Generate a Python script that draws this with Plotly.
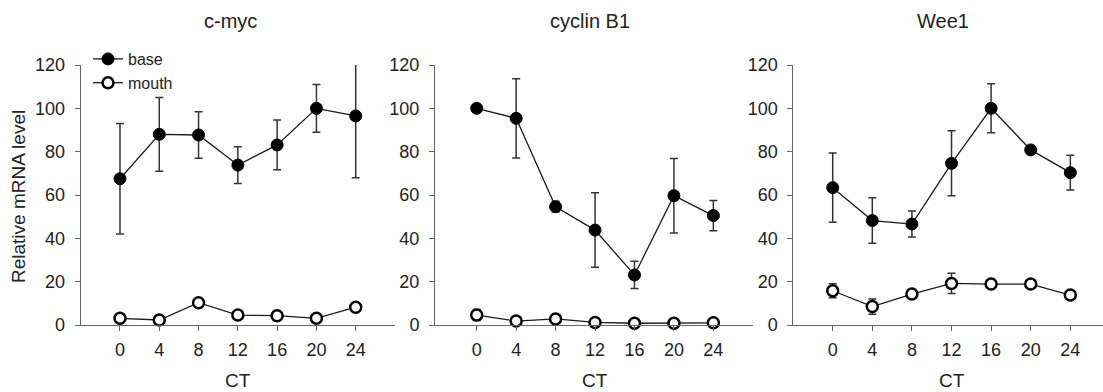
import plotly.graph_objects as go

W, H = 1103, 392

ct = [0, 4, 8, 12, 16, 20, 24]
titles = ["c-myc", "cyclin B1", "Wee1"]

cmyc_base = [67.5, 88.0, 87.7, 73.8, 83.1, 100.0, 96.5]
cmyc_base_err = [25.5, 17.0, 10.7, 8.5, 11.5, 11.0, 28.5]
cmyc_mouth = [3.1, 2.3, 10.3, 4.6, 4.3, 3.1, 8.2]
cmyc_mouth_err = [0.8, 0.6, 1.2, 0.8, 0.8, 0.6, 1.0]

cycb1_base = [100.0, 95.4, 54.6, 43.8, 23.1, 59.7, 50.5]
cycb1_base_err = [1.5, 18.3, 2.5, 17.2, 6.3, 17.2, 7.0]
cycb1_mouth = [4.6, 1.8, 2.8, 1.2, 0.8, 0.8, 1.0]
cycb1_mouth_err = [2.5, 0.6, 0.8, 0.4, 0.3, 0.3, 0.3]

wee1_base = [63.4, 48.2, 46.6, 74.6, 100.0, 80.8, 70.3]
wee1_base_err = [16.0, 10.5, 6.0, 15.0, 11.3, 1.5, 8.0]
wee1_mouth = [15.8, 8.5, 14.3, 19.2, 18.9, 18.9, 13.8]
wee1_mouth_err = [3.2, 3.5, 1.0, 4.7, 0.8, 0.8, 1.5]

panels = [
    (cmyc_base, cmyc_base_err, cmyc_mouth, cmyc_mouth_err),
    (cycb1_base, cycb1_base_err, cycb1_mouth, cycb1_mouth_err),
    (wee1_base, wee1_base_err, wee1_mouth, wee1_mouth_err),
]

FONT = "Liberation Sans, Arial, sans-serif"
LINE_C = "#1a1a1a"
ERR_C = "#333333"
AX_C = "#666666"

# pixel layout of the three plot areas
x_dom_px = [(80.7, 395.0), (435.0, 752.7), (793.3, 1103.0)]
x_ranges = [(-4.0, 28.0), (-4.23, 27.99), (-3.98, 27.3)]
y_dom = [(H - 325) / H, (H - 65) / H]

fig = go.Figure()

for i, (b, be, m, me) in enumerate(panels):
    sfx = "" if i == 0 else str(i + 1)
    xa, ya = "x" + sfx, "y" + sfx
    fig.add_trace(go.Scatter(
        x=ct, y=b, mode="lines+markers", name="base",
        xaxis=xa, yaxis=ya, showlegend=(i == 0), cliponaxis=True,
        line=dict(color=LINE_C, width=1.3),
        marker=dict(size=12, color="black", line=dict(color="black", width=1)),
        error_y=dict(type="data", array=be, visible=True, color=ERR_C,
                     thickness=1.5, width=4),
    ))
    fig.add_trace(go.Scatter(
        x=ct, y=m, mode="lines+markers", name="mouth",
        xaxis=xa, yaxis=ya, showlegend=(i == 0), cliponaxis=False,
        line=dict(color=LINE_C, width=1.3),
        marker=dict(size=11, color="white", line=dict(color="black", width=2.5)),
        error_y=dict(type="data", array=me, visible=True, color=ERR_C,
                     thickness=1.5, width=4),
    ))

layout = dict(
    width=W, height=H,
    margin=dict(l=0, r=0, t=0, b=0, pad=0, autoexpand=False),
    paper_bgcolor="white", plot_bgcolor="white",
    font=dict(family=FONT, size=18, color="#222222"),
    showlegend=True,
    legend=dict(x=88 / W, y=1 - 42 / H, xanchor="left", yanchor="top",
                bgcolor="rgba(0,0,0,0)", borderwidth=0,
                font=dict(family=FONT, size=16, color="#222222"),
                tracegroupgap=0, itemwidth=30),
)

annotations = []
for i in range(3):
    sfx = "" if i == 0 else str(i + 1)
    d0, d1 = x_dom_px[i]
    layout["xaxis" + sfx] = dict(
        domain=[d0 / W, d1 / W], range=list(x_ranges[i]),
        tickvals=ct, ticktext=[str(v) for v in ct],
        showline=True, linecolor=AX_C, linewidth=1,
        ticks="outside", ticklen=5, tickcolor=AX_C, tickwidth=1,
        showgrid=False, zeroline=False, anchor="y" + sfx,
        tickfont=dict(size=18, color="#222222"),
        ticklabelstandoff=3, automargin=False,
    )
    layout["yaxis" + sfx] = dict(
        domain=y_dom, range=[0, 120], tickvals=[0, 20, 40, 60, 80, 100, 120],
        showline=True, linecolor=AX_C, linewidth=1,
        ticks="outside", ticklen=5, tickcolor=AX_C, tickwidth=1,
        showgrid=False, zeroline=False, anchor="x" + sfx,
        tickfont=dict(size=18, color="#222222"),
        ticklabelstandoff=6, automargin=False,
    )
    annotations.append(dict(
        text="CT", xref="x" + sfx, x=12, yref="paper", y=1 - 380 / H,
        showarrow=False, xanchor="center", yanchor="middle",
        font=dict(size=19, color="#222222"),
    ))

title_x = [230, 590, 943]
for i, t in enumerate(titles):
    annotations.append(dict(
        text=t, xref="paper", x=title_x[i] / W, yref="paper", y=1 - 21 / H,
        showarrow=False, xanchor="center", yanchor="middle",
        font=dict(size=20, color="#222222"),
    ))

annotations.append(dict(
    text="Relative mRNA level", xref="paper", x=18 / W, yref="paper", y=1 - 197 / H,
    showarrow=False, xanchor="center", yanchor="middle", textangle=-90,
    font=dict(size=19, color="#222222"),
))

layout["annotations"] = annotations
fig.update_layout(**layout)

fig.write_html("out.html")
